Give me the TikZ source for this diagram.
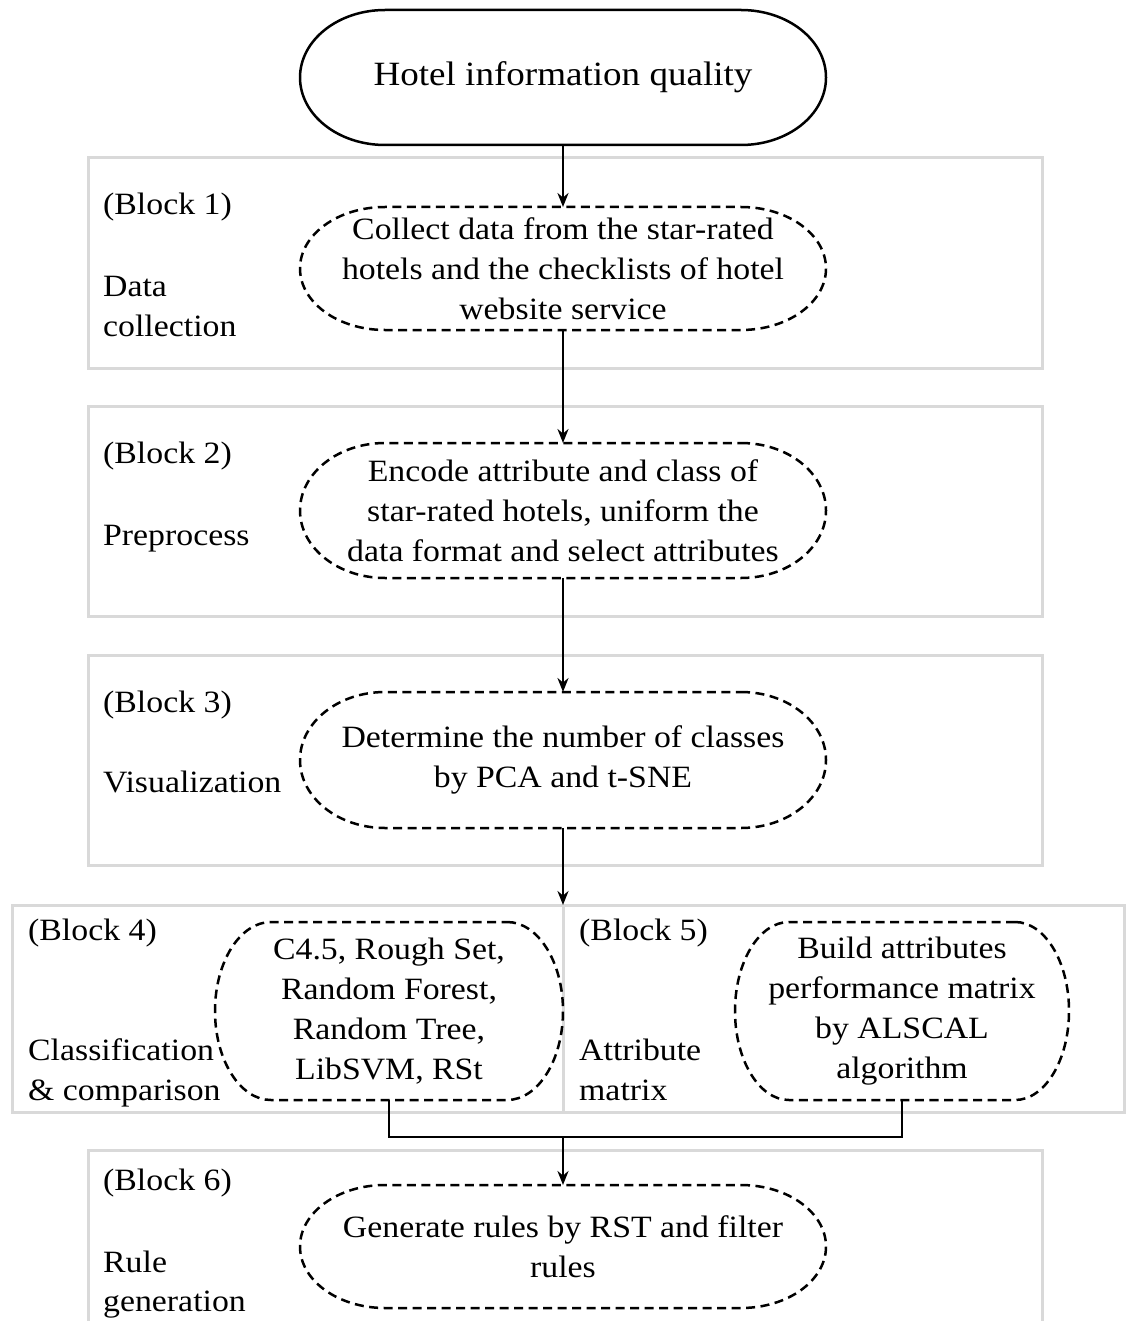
\documentclass[tikz,border=0pt]{standalone}
\usepackage{fontspec}
\setmainfont[FakeStretch=1.09]{Liberation Serif}
\usetikzlibrary{arrows.meta}
\newcommand\myoval[4][]{%
  \draw[line width=2.5pt,#1] ([xshift=-#3pt]#2.north east)
    arc[start angle=90,end angle=-90,x radius=#3pt,y radius=#4pt]
    -- ([xshift=#3pt]#2.south west)
    arc[start angle=270,end angle=90,x radius=#3pt,y radius=#4pt] -- cycle;}
\begin{document}
\begin{tikzpicture}[x=1pt,y=-1pt,
  every node/.style={font=\fontsize{31}{40}\selectfont},
  blk/.style={draw=black!15, line width=3pt, inner sep=0pt, outer sep=0pt},
  term/.style={minimum width=526pt, minimum height=135pt, inner sep=0pt, outer sep=0pt, font=\fontsize{34}{40}\selectfont},
  dbox/.style={inner sep=0pt, outer sep=0pt, align=center},
  dline/.style={dash pattern=on 9pt off 5.5pt},
  lbl/.style={anchor=base west, inner sep=0pt},
  conn/.style={draw=black, line width=2.5pt},
  arr/.style={conn, -{Stealth[length=14pt,width=11pt]}}
]
\useasboundingbox[fill=white] (0,0) rectangle (1129,1321);

% block frames
\node[blk, minimum width=954pt, minimum height=210pt] (b1) at (565,263) {};
\node[blk, minimum width=954pt, minimum height=210pt] (b2) at (565,511) {};
\node[blk, minimum width=954pt, minimum height=210pt] (b3) at (565,760) {};
\node[blk, minimum width=551pt, minimum height=207pt] (b4) at (287.5,1008.5) {};
\node[blk, minimum width=561pt, minimum height=207pt] (b5) at (843.5,1008.5) {};
\coordinate (b6nw) at (88,1150);
\coordinate (b6ne) at (1042,1150);
\draw[draw=black!15, line width=3pt] (88,1321) -- (b6nw) -- (b6ne) -- (1042,1321);

% terminal
\node[term] (t) at (563,77.5) {Hotel information quality};
\myoval{t}{85}{67.5}

% dashed process boxes
\node[dbox, minimum width=526pt, minimum height=123pt] (d1) at (563,268.5)
  {Collect data from the star-rated\\hotels and the checklists of hotel\\website service};
\node[dbox, minimum width=526pt, minimum height=135pt] (d2) at (563,510.5)
  {Encode attribute and class of\\star-rated hotels, uniform the\\data format and select attributes};
\node[dbox, minimum width=526pt, minimum height=136pt] (d3) at (563,760)
  {Determine the number of classes\\by PCA and t-SNE};
\node[dbox, minimum width=348pt, minimum height=178pt] (d4) at (389,1011)
  {C4.5, Rough Set,\\Random Forest,\\Random Tree,\\LibSVM, RSt};
\node[dbox, minimum width=334pt, minimum height=178pt] (d5) at (902,1011)
  {Build attributes\\performance matrix\\by ALSCAL\\algorithm};
\node[dbox, minimum width=526pt, minimum height=123pt] (d6) at (563,1246.5)
  {Generate rules by RST and filter\\rules};
\myoval[dline]{d1}{85}{61.5}
\myoval[dline]{d2}{85}{67.5}
\myoval[dline]{d3}{85}{68}
\myoval[dline]{d4}{56}{89}
\myoval[dline]{d5}{54}{89}
\myoval[dline]{d6}{85}{61.5}

% left labels
\node[lbl] (l1a) at (103,215) {(Block 1)};
\node[lbl] (l1b) at (103,297) {Data};
\node[lbl] (l1c) at (103,336) {collection};
\node[lbl] (l2a) at (103,463) {(Block 2)};
\node[lbl] (l2b) at (103,545) {Preprocess};
\node[lbl] (l3a) at (103,712) {(Block 3)};
\node[lbl] (l3b) at (103,792) {Visualization};
\node[lbl] (l4a) at (28,940) {(Block 4)};
\node[lbl] (l4b) at (28,1060) {Classification};
\node[lbl] (l4c) at (28,1100) {\& comparison};
\node[lbl] (l5a) at (579,940) {(Block 5)};
\node[lbl] (l5b) at (579,1060) {Attribute};
\node[lbl] (l5c) at (579,1100) {matrix};
\node[lbl] (l6a) at (103,1190) {(Block 6)};
\node[lbl] (l6b) at (103,1272) {Rule};
\node[lbl] (l6c) at (103,1311) {generation};

% connectors
\draw[arr] (t.south) -- (d1.north);
\draw[arr] (d1.south) -- (d2.north);
\draw[arr] (d2.south) -- (d3.north);
\draw[arr] (d3.south) -- (b4.north east);
\coordinate (j) at (563,1137);
\draw[conn] (d4.south) |- (j) -| (d5.south);
\draw[arr] (j) -- (d6.north);
\end{tikzpicture}
\end{document}
